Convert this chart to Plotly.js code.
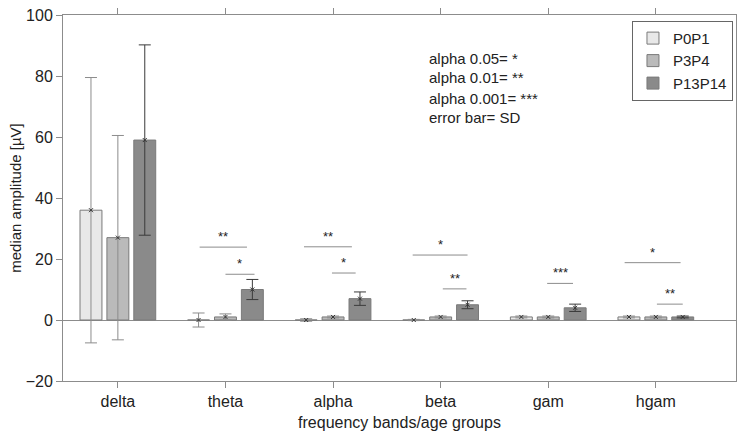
<!DOCTYPE html>
<html>
<head>
<meta charset="utf-8">
<script src="https://cdn.plot.ly/plotly-3.0.1.min.js"></script>
<style>html,body{margin:0;padding:0;background:#fff;}#chart{width:737px;height:435px;}</style>
</head>
<body>
<div id="chart"></div>
<script>
// ---- data ----
const categories = ["delta", "theta", "alpha", "beta", "gam", "hgam"];
const groups = ["P0P1", "P3P4", "P13P14"];
const p0p1 = [36, 0, 0, 0, 1, 1];
const p3p4 = [27, 1, 1, 1, 1, 1];
const p13p14 = [59, 10, 7, 5, 4, 1];
const sdP0P1 = [43.5, 2.3, 0.4, 0.2, 0.3, 0.3];
const sdP3P4 = [33.5, 1.0, 0.3, 0.3, 0.3, 0.3];
const sdP13P14 = [31.2, 3.3, 2.2, 1.3, 1.2, 0.3];
// significance brackets: start, end (category units), height, label
const sigStart = [0.76, 1.0, 1.73, 1.99, 2.74, 3.02, 3.99, 4.71, 5.01];
const sigEnd   = [1.2, 1.27, 2.175, 2.21, 3.25, 3.24, 4.23, 5.23, 5.25];
const sigY     = [23.9, 15.0, 24.0, 15.4, 21.3, 10.2, 12.0, 18.8, 5.2];
const sigLabel = ["**", "*", "**", "*", "*", "**", "***", "*", "**"];
const noteLines = ["alpha 0.05= *", "alpha 0.01= **", "alpha 0.001= ***", "error bar= SD"];

// ---- styles ----
const values = [p0p1, p3p4, p13p14];
const sds = [sdP0P1, sdP3P4, sdP13P14];
const fills = ["#e8e8e8", "#bababa", "#8a8a8a"];
const errColors = ["#8c8c8c", "#8c8c8c", "#3a3a3a"];
const offsets = [-0.25, 0, 0.25];
const idx = categories.map((c, i) => i);
const FONT = "Liberation Sans, Arial, sans-serif";

const traces = [];
groups.forEach((g, k) => {
  traces.push({
    type: "bar", name: g, x: idx, y: values[k],
    marker: {color: fills[k], line: {color: "#7a7a7a", width: 1}},
    error_y: {type: "data", array: sds[k], visible: true, color: errColors[k], thickness: 1, width: 6},
    hoverinfo: "skip"
  });
});
groups.forEach((g, k) => {
  traces.push({
    type: "scatter", mode: "markers", showlegend: false,
    x: idx.map(i => i + offsets[k]), y: values[k],
    marker: {symbol: "x-thin", size: 4, line: {color: "#333", width: 1}, color: "#333"},
    hoverinfo: "skip"
  });
});

const shapes = sigStart.map((s, i) => ({
  type: "line", xref: "x", yref: "y", x0: s, x1: sigEnd[i], y0: sigY[i], y1: sigY[i],
  line: {color: "#8c8c8c", width: 1}
}));
const annotations = sigStart.map((s, i) => ({
  xref: "x", yref: "y", x: (s + sigEnd[i]) / 2, y: sigY[i], text: sigLabel[i],
  showarrow: false, yanchor: "bottom", yshift: 1, font: {family: FONT, size: 13, color: "#222"}
}));
noteLines.forEach((t, i) => {
  annotations.push({
    xref: "paper", yref: "paper", x: 0.541, xanchor: "left",
    y: (381 - (58 + 20 * i)) / 366, yanchor: "middle", text: t, showarrow: false,
    font: {family: FONT, size: 15, color: "#222"}
  });
});

const layout = {
  width: 737, height: 435,
  margin: {l: 63, r: 1, t: 15, b: 54},
  paper_bgcolor: "#fff", plot_bgcolor: "#fff",
  font: {family: FONT, size: 15, color: "#222"},
  barmode: "group", bargap: 0.25, bargroupgap: 0.185,
  showlegend: true,
  legend: {x: 0.9955, xanchor: "right", y: 0.984, yanchor: "top",
    bordercolor: "#666", borderwidth: 1, bgcolor: "#fff",
    font: {family: FONT, size: 15, color: "#222"}, tracegroupgap: 0, itemwidth: 30},
  xaxis: {
    range: [-0.51, 5.745], tickvals: idx, ticktext: categories,
    showgrid: false, zeroline: false, showline: true, linecolor: "#8c8c8c", linewidth: 1,
    mirror: "ticks", ticks: "outside", ticklen: 6, tickcolor: "#8c8c8c",
    tickfont: {family: FONT, size: 16, color: "#222"},
    title: {text: "frequency bands/age groups", font: {family: FONT, size: 16, color: "#222"}, standoff: 7}
  },
  yaxis: {
    range: [-20, 100], tickvals: [-20, 0, 20, 40, 60, 80, 100],
    showgrid: false, zeroline: true, zerolinecolor: "#8c8c8c", zerolinewidth: 1,
    showline: true, linecolor: "#8c8c8c", linewidth: 1,
    mirror: "ticks", ticks: "outside", ticklen: 6, tickcolor: "#8c8c8c",
    tickfont: {family: FONT, size: 16, color: "#222"},
    title: {text: "median amplitude [µV]", font: {family: FONT, size: 15, color: "#222"}, standoff: 0}
  },
  shapes: shapes, annotations: annotations
};
Plotly.newPlot("chart", traces, layout, {displayModeBar: false, staticPlot: true});
</script>
</body>
</html>
